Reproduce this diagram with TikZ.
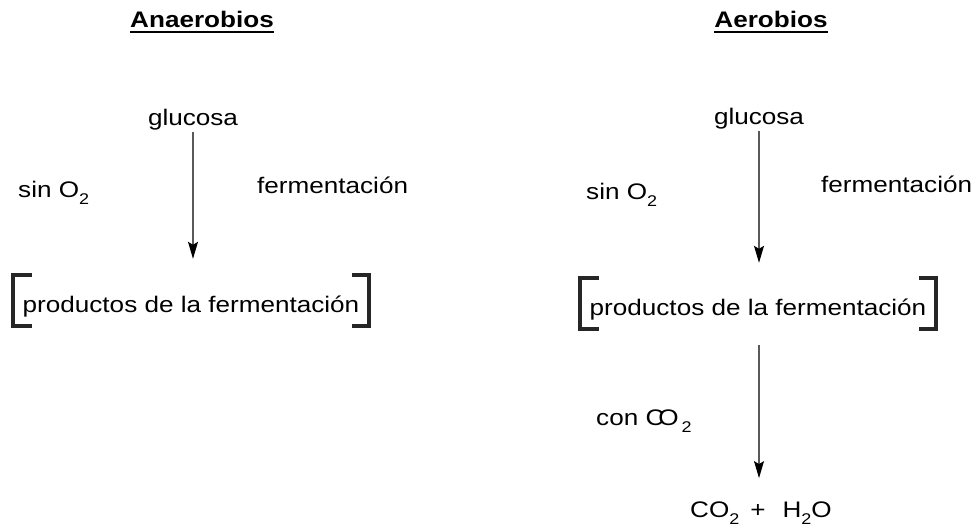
\documentclass[tikz,border=0pt]{standalone}
\usepackage{fontspec}
\setmainfont{Liberation Sans}[FakeStretch=1.16]
\usetikzlibrary{arrows.meta,calc,positioning}
\newcommand{\idx}[1]{\raisebox{-7pt}{\fontsize{15.5}{15.5}\selectfont #1}}

\begin{document}
\begin{tikzpicture}[x=1pt,y=-1pt,
  txt/.style={inner sep=0pt,font=\fontsize{22.5}{27}\selectfont},
  ttl/.style={inner sep=0pt,font=\fontsize{22.5}{27}\selectfont\bfseries},
  caja/.style={txt,inner xsep=9.5pt,text height=37pt,text depth=14pt},
  flecha/.style={black!65,line width=1.1pt,-{Stealth[black,length=17pt,width=10pt,inset=3pt]}},
  corchete/.style={line width=3.5pt,black!85}]
  \useasboundingbox (0,0) rectangle (976,527);

  % titles
  \node[ttl,anchor=base] (ana) at (202,28) {Anaerobios};
  \node[ttl,anchor=base] (aer) at (771,28) {Aerobios};
  \foreach \t in {ana,aer}
    \draw[line width=2.2pt] ([yshift=-4pt]\t.base west) -- ([yshift=-4pt]\t.base east);

  % anaerobios
  \node[txt,anchor=base] (g1) at (193,125) {glucosa};
  \node[txt,anchor=base west] (s1) at (18,197) {sin O\idx{2}};
  \node[txt,anchor=base west] (f1) at (257,193) {fermentación};
  \node[caja,anchor=base west] (p1) at (13,312) {productos de la fermentación};
  \draw[flecha,shorten <=2pt,shorten >=16pt] (g1.south) -- (g1.south |- p1.north);

  % aerobios
  \node[txt,anchor=base] (g2) at (759,124) {glucosa};
  \node[txt,anchor=base west] (s2) at (586,199) {sin O\idx{2}};
  \node[txt,anchor=base west] (f2) at (821,192) {fermentación};
  \node[caja,anchor=base west] (p2) at (580,315) {productos de la fermentación};
  \draw[flecha,shorten <=2pt,shorten >=15pt] (g2.south) -- (g2.south |- p2.north);
  \node[txt,anchor=base west] (c2) at (596,425) {con C\kern-6pt O\hspace{3pt}\idx{2}};
  \node[txt,anchor=base west] (w2) at (690,517)
    {CO\idx{2}\hspace{11pt}+\hspace{17pt}H\idx{2}O};
  \draw[flecha,shorten <=16pt,shorten >=23pt] (g2 |- p2.south) -- (g2 |- w2.north);

  % brackets
  \foreach \p in {p1,p2}{
    \draw[corchete] ([xshift=19pt]\p.north west) -- (\p.north west)
      -- (\p.south west) -- ([xshift=19pt]\p.south west);
    \draw[corchete] ([xshift=-17pt]\p.north east) -- (\p.north east)
      -- (\p.south east) -- ([xshift=-17pt]\p.south east);}
\end{tikzpicture}
\end{document}
